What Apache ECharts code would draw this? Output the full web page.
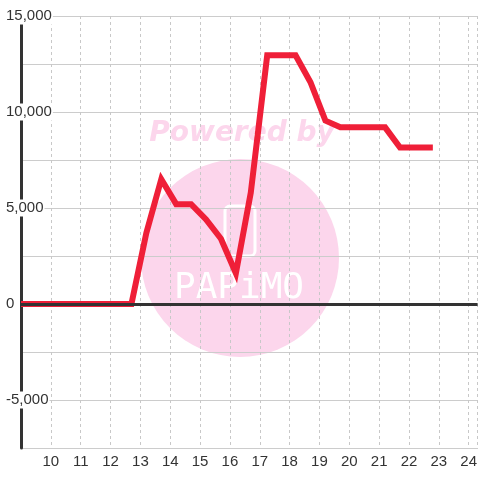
<!DOCTYPE html>
<html>
<head>
<meta charset="utf-8">
<script src="https://cdn.jsdelivr.net/npm/echarts@6/dist/echarts.min.js"></script>
<style>
  html, body { margin: 0; padding: 0; background: #fff; }
  #chart { width: 480px; height: 480px; }
</style>
</head>
<body>
<div id="chart"></div>
<script>
// hour of day (x) and value (y) of the red line
var hours = [9, 12.7, 13.2, 13.7, 14.2, 14.7, 15.2, 15.7, 16.2, 16.7, 17.25, 18.2, 18.7, 19.2, 19.7, 21.2, 21.7, 22.8];
var values = [0, 0, 3700, 6500, 5200, 5200, 4400, 3400, 1600, 5800, 12950, 12950, 11550, 9550, 9200, 9200, 8150, 8150];
// labelled y ticks
var yLabels = [-5000, 0, 5000, 10000, 15000];

var lineData = [];
for (var i = 0; i < hours.length; i++) {
  lineData.push([hours[i], values[i]]);
}

function fmtNum(v) {
  var s = Math.abs(v).toString().replace(/\B(?=(\d{3})+(?!\d))/g, ',');
  return (v < 0 ? '-' : '') + s;
}

var chart = echarts.init(document.getElementById('chart'));

var option = {
  animation: false,
  backgroundColor: '#fff',
  grid: { left: 21, right: 0, top: 16, bottom: 32 },
  // watermark
  graphic: [
    { type: 'circle', z: -10, shape: { cx: 240, cy: 258, r: 99 }, style: { fill: '#fcd6ec' } },
    { type: 'text', z: -10, x: 242, y: 134,
      style: { text: 'Powered by', fill: '#fcd6ec', font: 'italic bold 28px "DejaVu Sans"', align: 'center', verticalAlign: 'middle' } },
    { type: 'rect', z: -9, shape: { x: 225, y: 206, width: 30, height: 50, r: 5 },
      style: { fill: 'none', stroke: '#fff', lineWidth: 3 } },
    { type: 'text', z: -9, x: 239, y: 289,
      style: { text: 'PAPiMO', fill: '#fff', font: '36px "DejaVu Sans Mono"', align: 'center', verticalAlign: 'middle' } }
  ],
  xAxis: {
    type: 'value',
    min: 9,
    max: 24.3,
    interval: 1,
    axisLine: { onZero: false, lineStyle: { color: '#ccc', width: 1 } },
    axisTick: { show: false },
    axisLabel: {
      color: '#333',
      fontSize: 15,
      fontFamily: 'Liberation Sans',
      margin: 6,
      showMinLabel: false,
      showMaxLabel: false,
      formatter: function (v) {
        return (v % 1 === 0 && v > 9) ? String(v) : '';
      }
    },
    splitLine: { show: true, lineStyle: { color: '#c8c8c8', type: [3, 3], width: 1 } }
  },
  yAxis: [
    {
      // labels + dark axis line, drawn above the grid lines
      type: 'value',
      position: 'left',
      z: 2,
      min: -7500,
      max: 15000,
      interval: 2500,
      axisLine: { show: true, lineStyle: { color: '#333', width: 3 } },
      axisTick: { show: false },
      axisLabel: {
        inside: true,
        margin: -15,
        formatter: function (v) {
          return yLabels.indexOf(v) >= 0 ? '{b|' + fmtNum(v) + '}' : '';
        },
        rich: {
          b: {
            color: '#333',
            fontSize: 15,
            fontFamily: 'Liberation Sans',
            backgroundColor: '#fff',
            padding: [1, 1, 1, 0]
          }
        }
      },
      splitLine: { show: false }
    },
    {
      // horizontal grid lines only
      type: 'value',
      z: 0,
      min: -7500,
      max: 15000,
      interval: 2500,
      axisLine: { show: false },
      axisTick: { show: false },
      axisLabel: { show: false },
      splitLine: { show: true, lineStyle: { color: '#ccc', width: 1 } }
    }
  ],
  series: [
    {
      // zero line
      type: 'line',
      data: [],
      z: 1,
      markLine: {
        silent: true,
        symbol: 'none',
        label: { show: false },
        lineStyle: { color: '#333', width: 3, type: 'solid' },
        data: [{ yAxis: 0 }]
      }
    },
    {
      type: 'line',
      data: lineData,
      z: 3,
      showSymbol: false,
      lineStyle: { color: '#ef1f38', width: 6, join: 'miter', cap: 'butt' }
    }
  ]
};

chart.setOption(option);
window.addEventListener('resize', function () {
  chart.resize();
});
</script>
</body>
</html>
